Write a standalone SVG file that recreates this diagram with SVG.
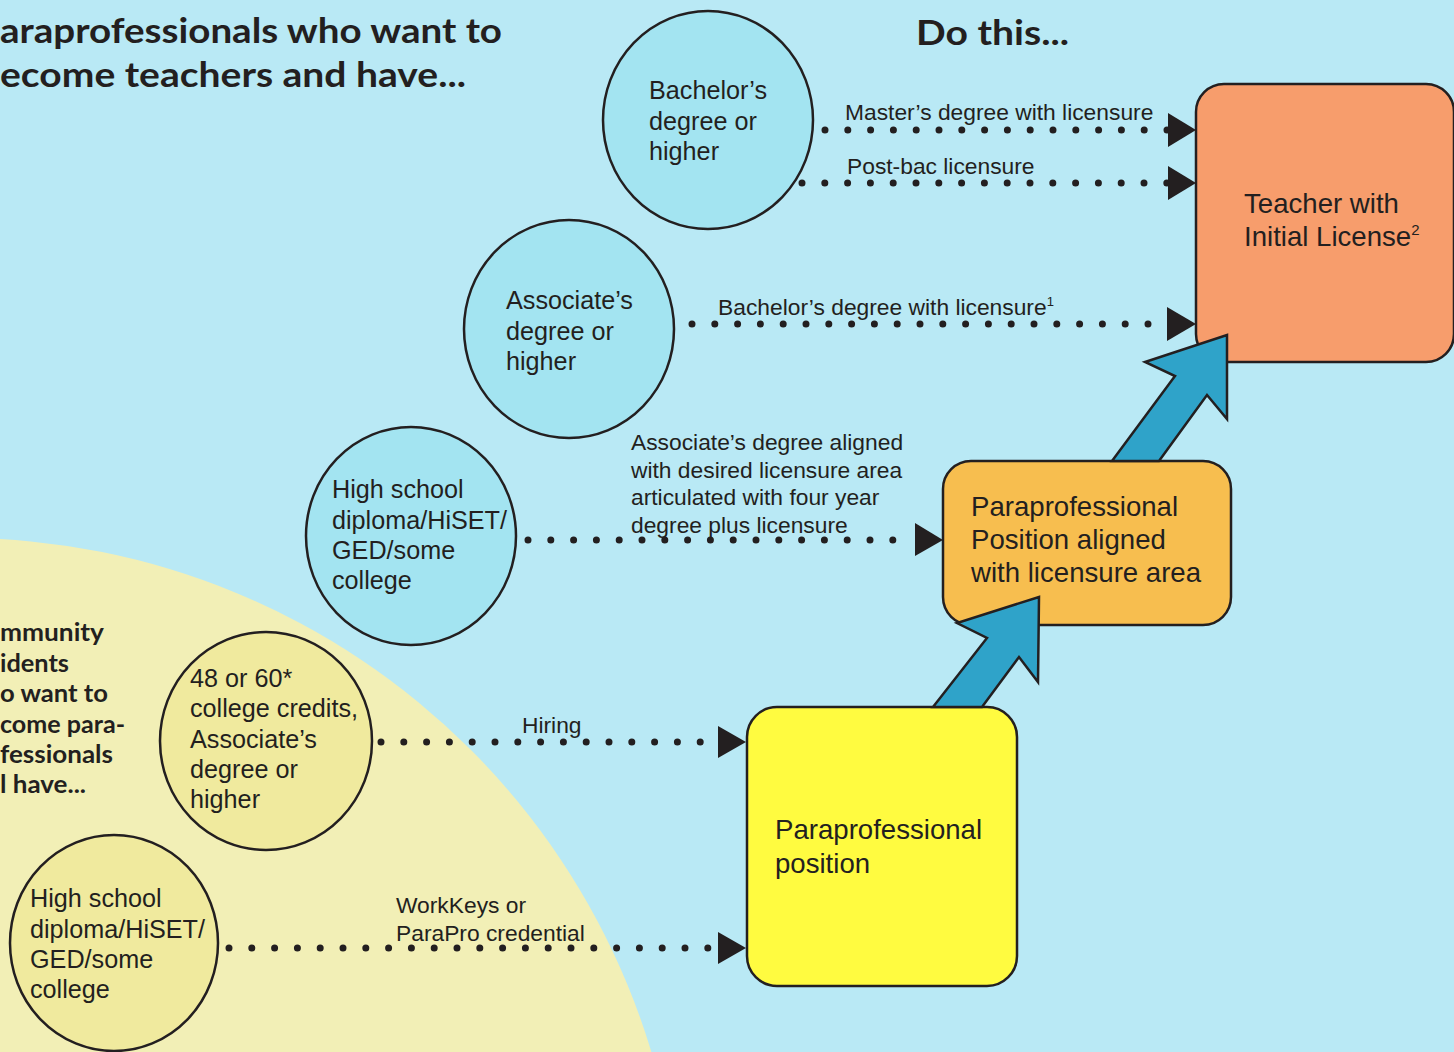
<svg xmlns="http://www.w3.org/2000/svg" width="1454" height="1052" viewBox="0 0 1454 1052">
<defs>
<style>
.head{font-family:Lato,"Open Sans","DejaVu Sans",sans-serif;font-weight:700;fill:#231F20}
.t{font-family:"Liberation Sans",Arial,sans-serif;fill:#231F20}
.ct{font-size:25.2px}
.bt{font-size:27.6px}
.lt{font-size:22.8px}
.bc{fill:#A3E4F1;stroke:#231F20;stroke-width:2.5}
.yc{fill:#F0EA9E;stroke:#231F20;stroke-width:2.5}
.box{stroke:#231F20;stroke-width:2.5}
.dots{stroke:#231F20;stroke-width:7;stroke-linecap:round;stroke-dasharray:0 22.8;fill:none}
.tri{fill:#231F20}
.big{fill:#2FA3C9;stroke:#231F20;stroke-width:2.5;stroke-linejoin:miter}
</style>
</defs>
<rect x="0" y="0" width="1454" height="1052" fill="#B9E9F5"/>
<circle cx="-40" cy="1260" r="722" fill="#F2EFB6"/>

<g id="headings">
<text class="head" x="0" y="43" font-size="34" textLength="502" lengthAdjust="spacingAndGlyphs">araprofessionals who want to</text>
<text class="head" x="0" y="87" font-size="34" textLength="466" lengthAdjust="spacingAndGlyphs">ecome teachers and have...</text>
<text class="head" x="916" y="45" font-size="34" textLength="153" lengthAdjust="spacingAndGlyphs">Do this...</text>
<g font-size="24">
<text class="head" x="0" y="641" textLength="104" lengthAdjust="spacingAndGlyphs">mmunity</text>
<text class="head" x="0" y="672" textLength="69" lengthAdjust="spacingAndGlyphs">idents</text>
<text class="head" x="0" y="702" textLength="108" lengthAdjust="spacingAndGlyphs">o want to</text>
<text class="head" x="0" y="733" textLength="125" lengthAdjust="spacingAndGlyphs">come para-</text>
<text class="head" x="0" y="763" textLength="113" lengthAdjust="spacingAndGlyphs">fessionals</text>
<text class="head" x="0" y="793" textLength="86" lengthAdjust="spacingAndGlyphs">l have...</text>
</g>
</g>

<g id="node-teacher">
<rect class="box" x="1196" y="84" width="258" height="278" rx="28" fill="#F79D6C"/>
<text class="t bt" x="1244" y="213">Teacher with</text>
<text class="t bt" x="1244" y="246">Initial License<tspan font-size="15" dy="-11">2</tspan></text>
</g>

<g id="node-para-aligned">
<rect class="box" x="943" y="461" width="288" height="164" rx="28" fill="#F7BE4F"/>
<text class="t bt" x="971" y="516">Paraprofessional</text>
<text class="t bt" x="971" y="549">Position aligned</text>
<text class="t bt" x="971" y="582">with licensure area</text>
</g>

<g id="node-para-position">
<rect class="box" x="747" y="707" width="270" height="279" rx="30" fill="#FFFB40"/>
<text class="t bt" x="775" y="839">Paraprofessional</text>
<text class="t bt" x="775" y="873">position</text>
</g>

<g id="node-bachelors">
<ellipse class="bc" cx="708" cy="120" rx="105" ry="109"/>
<text class="t ct" x="649" y="99">Bachelor’s</text>
<text class="t ct" x="649" y="130">degree or</text>
<text class="t ct" x="649" y="160">higher</text>
</g>

<g id="node-associates">
<ellipse class="bc" cx="569" cy="329" rx="105" ry="109"/>
<text class="t ct" x="506" y="309">Associate’s</text>
<text class="t ct" x="506" y="340">degree or</text>
<text class="t ct" x="506" y="370">higher</text>
</g>

<g id="node-highschool-teacher">
<ellipse class="bc" cx="411" cy="536" rx="105" ry="109"/>
<text class="t ct" x="332" y="498">High school</text>
<text class="t ct" x="332" y="529">diploma/HiSET/</text>
<text class="t ct" x="332" y="559">GED/some</text>
<text class="t ct" x="332" y="589">college</text>
</g>

<g id="node-credits">
<ellipse class="yc" cx="266" cy="741" rx="106" ry="109"/>
<text class="t ct" x="190" y="687">48 or 60*</text>
<text class="t ct" x="190" y="717">college credits,</text>
<text class="t ct" x="190" y="748">Associate’s</text>
<text class="t ct" x="190" y="778">degree or</text>
<text class="t ct" x="190" y="808">higher</text>
</g>

<g id="node-highschool-para">
<ellipse class="yc" cx="114" cy="943" rx="104" ry="108"/>
<text class="t ct" x="30" y="907">High school</text>
<text class="t ct" x="30" y="938">diploma/HiSET/</text>
<text class="t ct" x="30" y="968">GED/some</text>
<text class="t ct" x="30" y="998">college</text>
</g>

<g id="connectors">
<line class="dots" x1="825" y1="130" x2="1170" y2="130"/>
<polygon class="tri" points="1168,113 1196,130 1168,147"/>
<line class="dots" x1="802" y1="183" x2="1170" y2="183"/>
<polygon class="tri" points="1168,166 1196,183 1168,200"/>
<line class="dots" x1="692" y1="324" x2="1170" y2="324"/>
<polygon class="tri" points="1167,307 1196,324 1167,341"/>
<line class="dots" x1="528" y1="540" x2="912" y2="540"/>
<polygon class="tri" points="915,523 943,540 915,556"/>
<line class="dots" x1="381" y1="742" x2="720" y2="742"/>
<polygon class="tri" points="718,726 746,742 718,758"/>
<line class="dots" x1="229" y1="948" x2="720" y2="948"/>
<polygon class="tri" points="718,932 746,948 718,964"/>

<polygon class="big" points="1112,461 1175,376 1145,362 1227,335 1227,419 1207,395 1159,461"/>
<polygon class="big" points="933,707 987,638 957,623 1039,597 1038,682 1019,657 982,707"/>

<text class="t lt" x="845" y="120">Master’s degree with licensure</text>
<text class="t lt" x="847" y="174">Post-bac licensure</text>
<text class="t lt" x="718" y="315">Bachelor’s degree with licensure<tspan font-size="13" dy="-9">1</tspan></text>
<text class="t lt" x="631" y="450">Associate’s degree aligned</text>
<text class="t lt" x="631" y="478">with desired licensure area</text>
<text class="t lt" x="631" y="505">articulated with four year</text>
<text class="t lt" x="631" y="533">degree plus licensure</text>
<text class="t lt" x="522" y="733">Hiring</text>
<text class="t lt" x="396" y="913">WorkKeys or</text>
<text class="t lt" x="396" y="941">ParaPro credential</text>
</g>
</svg>
